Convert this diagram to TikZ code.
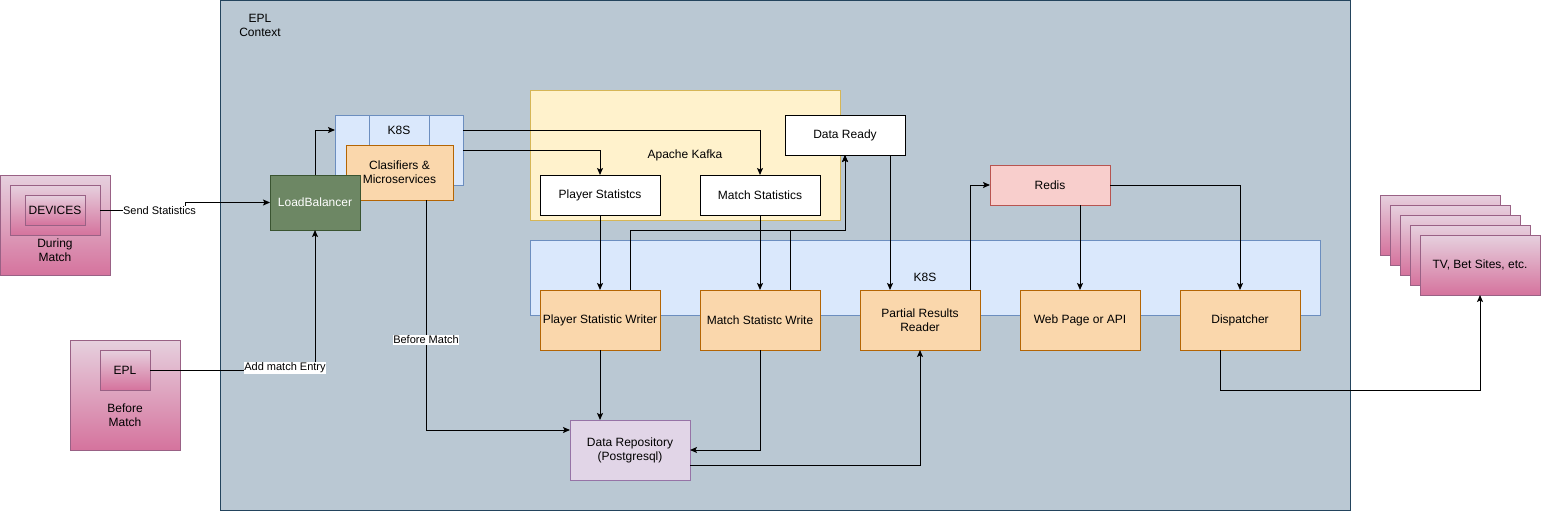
\documentclass[tikz,border=0pt]{standalone}
\usepackage{fontspec}
\setmainfont{Liberation Sans}
\usetikzlibrary{arrows.meta,calc}
\definecolor{ctxfill}{HTML}{BAC8D3}
\definecolor{ctxdraw}{HTML}{23445D}
\definecolor{pinktop}{HTML}{E6D0DE}
\definecolor{pinkbot}{HTML}{D5739D}
\definecolor{pinkdraw}{HTML}{996185}
\definecolor{bluefill}{HTML}{DAE8FC}
\definecolor{bluedraw}{HTML}{6C8EBF}
\definecolor{orfill}{HTML}{FAD7AC}
\definecolor{ordraw}{HTML}{B46504}
\definecolor{yfill}{HTML}{FFF2CC}
\definecolor{ydraw}{HTML}{D6B656}
\definecolor{gfill}{HTML}{6D8764}
\definecolor{gdraw}{HTML}{3A5431}
\definecolor{rfill}{HTML}{F8CECC}
\definecolor{rdraw}{HTML}{B85450}
\definecolor{pfill}{HTML}{E1D5E7}
\definecolor{pdraw}{HTML}{9673A6}
\tikzset{
  every node/.style={font=\fontsize{12}{14}\selectfont, align=center, inner sep=0pt, outer sep=0pt},
  box/.style={draw, line width=1pt, minimum width=120pt, minimum height=60pt},
  orangebox/.style={box, fill=orfill, draw=ordraw},
  whitebox/.style={box, fill=white, draw=black, minimum height=40pt},
  pinkbox/.style={draw=pinkdraw, line width=1pt, top color=pinktop, bottom color=pinkbot},
  bluebox/.style={draw=bluedraw, fill=bluefill, line width=1pt},
  arr/.style={draw=black, line width=1pt, -{Stealth[length=7pt,width=6pt,inset=1.5pt]}},
  ln/.style={draw=black, line width=1pt},
  elabel/.style={fill=white, inner sep=0.5pt, font=\fontsize{11}{13}\selectfont},
}
\begin{document}
\begin{tikzpicture}[x=1pt,y=-1pt]
\useasboundingbox (0,0) rectangle (1541,511);
% context
\node[draw=ctxdraw, fill=ctxfill, line width=1pt, minimum width=1130pt, minimum height=509.5pt] (ctx) at (785,255.5) {};
\node (ctxlabel) at (260,25) {EPL\\Context};
% during match
\node[pinkbox, minimum width=109.5pt, minimum height=100pt] (during) at (55.25,225) {};
\node[pinkbox, minimum width=90pt, minimum height=50pt] (dframe) at (55,210) {};
\node[pinkbox, minimum width=60pt, minimum height=30pt] (devices) at (55,210) {DEVICES};
\node (duringlbl) at (55,250) {During\\Match};
% before match
\node[pinkbox, minimum width=110pt, minimum height=110pt] (before) at (125,395) {};
\node[pinkbox, minimum width=50pt, minimum height=40pt] (epl) at (125,370) {EPL};
\node (beforelbl) at (125,415) {Before\\Match};
% K8S small
\node[bluebox, minimum width=128pt, minimum height=70pt] (k8sa) at (399,150) {};
\draw[draw=bluedraw, line width=1pt] ($(k8sa.north west)+(34,0)$) -- ($(k8sa.north west)+(34,30)$)
  ($(k8sa.north west)+(94,0)$) -- ($(k8sa.north west)+(94,30)$);
\node (k8salbl) at (399,130) {K8S};
\node[orangebox, minimum width=107pt, minimum height=55pt] (clas) at (399.5,172.5) {Clasifiers \&\\Microservices};
% load balancer
\node[box, fill=gfill, draw=gdraw, text=white, minimum width=90pt, minimum height=55pt] (lb) at (315,202.5) {LoadBalancer};
% kafka
\node[draw=ydraw, fill=yfill, line width=1pt, minimum width=310pt, minimum height=130pt] (kafka) at (685,155) {};
\node (kafkalbl) at (685,155) {Apache Kafka};
\node[whitebox] (ps) at (600,195) {Player Statistcs};
\node[whitebox] (ms) at (760,195) {Match Statistics};
\node[whitebox] (dr) at (845,135) {Data Ready};
% K8S band
\node[bluebox, minimum width=790pt, minimum height=75pt] (k8sb) at (925,277.5) {};
\node (k8sblbl) at (925,277.5) {K8S};
\node[orangebox] (psw) at (600,320) {Player Statistic Writer};
\node[orangebox] (msw) at (760,320) {Match Statistc Write};
\node[orangebox] (prr) at (920,320) {Partial Results\\Reader};
\node[orangebox] (web) at (1080,320) {Web Page or API};
\node[orangebox] (disp) at (1240,320) {Dispatcher};
% redis
\node[box, fill=rfill, draw=rdraw, minimum height=40pt] (redis) at (1050,185) {Redis};
% repository
\node[box, fill=pfill, draw=pdraw] (repo) at (630,450) {Data Repository\\(Postgresql)};
% TV stack
\node[pinkbox, minimum width=120pt, minimum height=60pt] (tv1) at (1440,225) {};
\node[pinkbox, minimum width=120pt, minimum height=60pt] (tv2) at (1450,235) {};
\node[pinkbox, minimum width=120pt, minimum height=60pt] (tv3) at (1460,245) {};
\node[pinkbox, minimum width=120pt, minimum height=60pt] (tv4) at (1470,255) {};
\node[pinkbox, minimum width=120pt, minimum height=60pt] (tv5) at (1480,265) {TV, Bet Sites, etc.};
% connectors
\draw[arr] (dframe.east) -- ++(85,0) |- (lb.west);
\node[elabel] (sendlbl) at (159.5,211) {Send Statistics};
\draw[arr] (epl.east) -| (lb.south);
\node[elabel] (addlbl) at (285,368) {Add match Entry};
\draw[arr] (lb.north) |- ([yshift=20pt]k8sa.west);
\draw[arr] ([yshift=20pt]k8sa.east) -| (ms.north);
\draw[arr] (k8sa.east) -| (ps.north);
\draw[arr] ([xshift=26.5pt]clas.south) |- ([yshift=20pt]repo.west);
\node[elabel] (bmlbl) at (426,340) {Before Match};
\draw[arr] (ps.south) -- (psw.north);
\draw[arr] (ms.south) -- (msw.north);
\draw[arr] ([xshift=30pt]psw.north) -- ++(0,-60) -| (dr.south);
\draw[arr] ([xshift=30pt]msw.north) -- ++(0,-60) -| (dr.south);
\draw[arr] ([xshift=45pt]dr.south) -- ([xshift=-30pt]prr.north);
\draw[arr] ([xshift=50pt]prr.north) |- (redis.west);
\draw[arr] ([xshift=30pt]redis.south) -- (web.north);
\draw[arr] (redis.east) -| (disp.north);
\draw[arr] ([xshift=-20pt]disp.south) -- ++(0,40) -| (tv5.south);
\draw[arr] (psw.south) -- (psw.south |- repo.north);
\draw[arr] (msw.south) |- (repo.east);
\draw[arr] ([yshift=-15pt]repo.east) -| (prr.south);
\end{tikzpicture}
\end{document}
